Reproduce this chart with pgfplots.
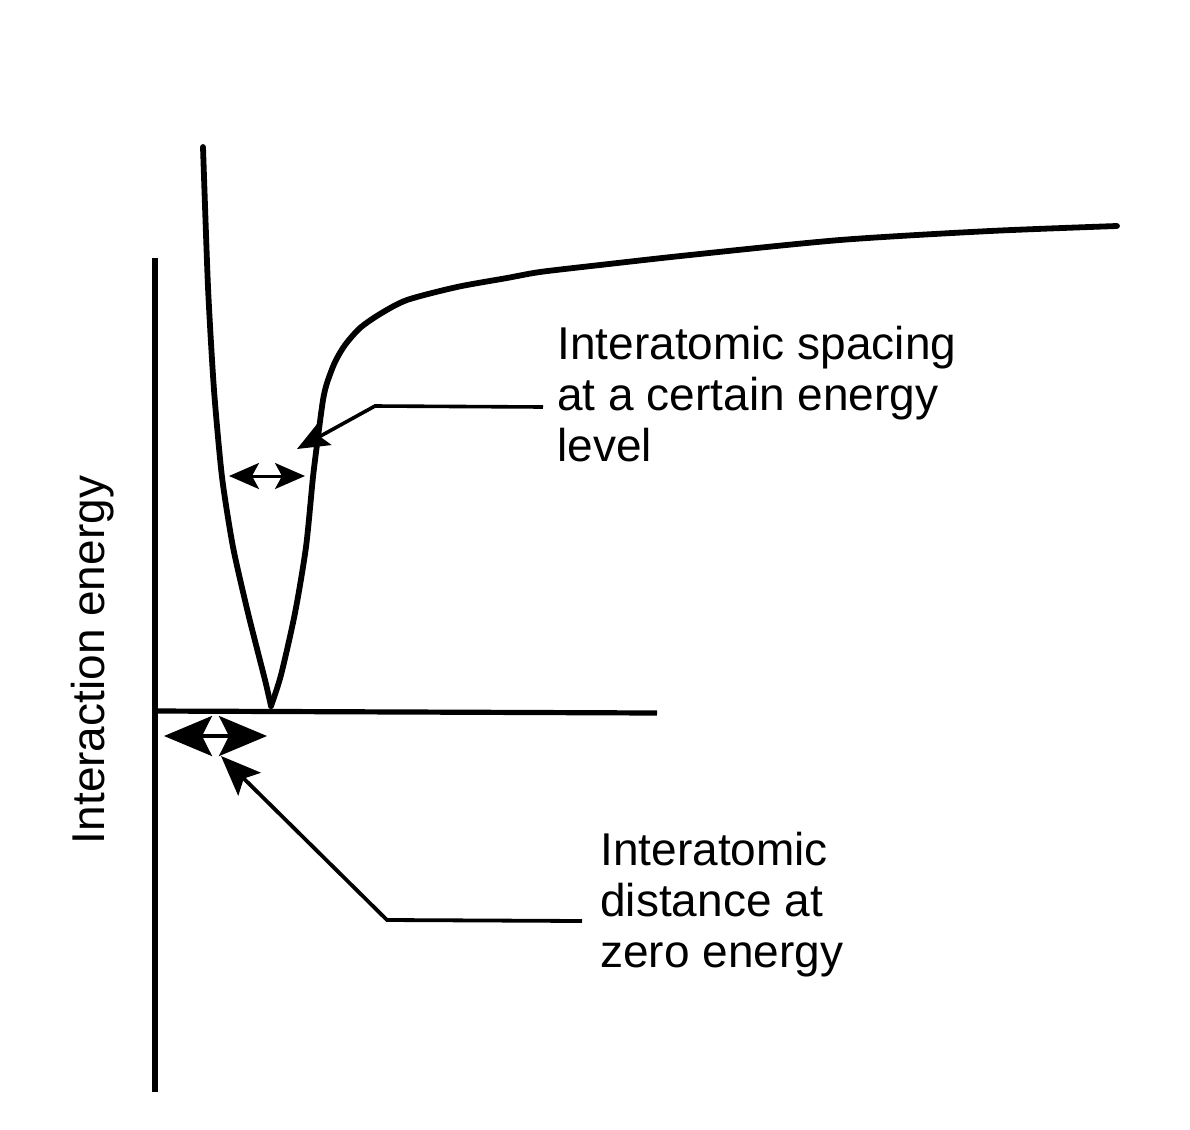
\documentclass[border=0pt]{standalone}
\usepackage{fontspec}
\setmainfont{Liberation Sans}
\usepackage{pgfplots}
\pgfplotsset{compat=1.18}
\usetikzlibrary{arrows.meta}
\begin{document}
\begin{tikzpicture}
\begin{axis}[
  width=595pt, height=565pt, scale only axis,
  xmin=0, xmax=1190, ymin=0, ymax=1130,
  y dir=reverse, hide axis, clip=false,
]
% invisible frame for bounding box
\addplot[draw=none] coordinates {(0,0) (1190,1130)};
% axes
\addplot[line width=2.7pt, line cap=butt] coordinates {(155,258) (155,1092)};
\addplot[line width=2.6pt] coordinates {(153,711) (657,713)};
% potential curve - left branch
\addplot[line width=2.9pt, smooth, tension=0.4, line cap=round] coordinates {
 (203,147) (208,287) (214,390) (222,477) (233,547) (248,613) (265,680) (271,706)};
% right branch
\addplot[line width=2.9pt, smooth, tension=0.45, line cap=round] coordinates {
 (271,706) (281,675) (295,613) (306,547) (313,477) (318,437) (323,400) (327,383)
 (335,362) (345,345) (360,328) (380,314) (407,300) (457,287) (507,278) (540,272)
 (600,265) (690,255) (840,240) (990,231) (1117,226)};
% small double arrow
\addplot[line width=1.5pt, {Stealth[length=15pt,width=13pt,inset=3.5pt]}-{Stealth[length=15pt,width=13pt,inset=3.5pt]}]
  coordinates {(229,476) (305,476)};
% thick double arrow
\addplot[line width=1.8pt, {Stealth[length=24pt,width=20pt,inset=5pt]}-{Stealth[length=24pt,width=20pt,inset=5pt]}]
  coordinates {(164,736) (267,736)};
% annotation 1
\addplot[line width=1.8pt, line join=miter, -{Stealth[length=16pt,width=13pt,inset=3pt]}]
  coordinates {(543,407) (375,406) (297,449)};
% annotation 2
\addplot[line width=1.9pt, line join=miter, -{Stealth[length=20pt,width=16pt,inset=4pt]}]
  coordinates {(582,921) (387,920) (221,756)};
% texts
\fontsize{23}{26}\selectfont
\node[anchor=base west, inner sep=0pt] at (axis cs:557,359) {Interatomic spacing};
\node[anchor=base west, inner sep=0pt] at (axis cs:557,410) {at a certain energy};
\node[anchor=base west, inner sep=0pt] at (axis cs:557,461) {level};
\node[anchor=base west, inner sep=0pt] at (axis cs:600,865) {Interatomic};
\node[anchor=base west, inner sep=0pt] at (axis cs:600,916) {distance at};
\node[anchor=base west, inner sep=0pt] at (axis cs:600,967) {zero energy};
\node[anchor=base, rotate=90, inner sep=0pt] at (axis cs:104,660) {Interaction energy};
\end{axis}
\end{tikzpicture}
\end{document}
